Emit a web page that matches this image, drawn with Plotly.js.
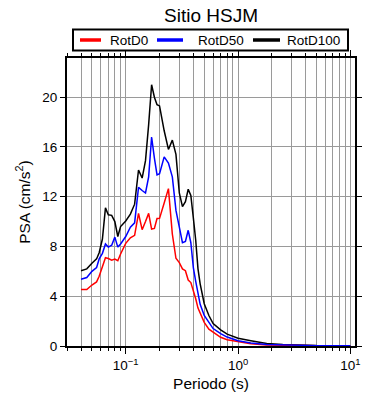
<!DOCTYPE html>
<html>
<head>
<meta charset="utf-8">
<script src="https://cdn.plot.ly/plotly-3.0.1.min.js"></script>
<style>html,body{margin:0;padding:0;background:#fff;}#chart{width:390px;height:400px;}</style>
</head>
<body>
<div id="chart"></div>
<script>
const periods = [0.04, 0.045, 0.05, 0.055, 0.058, 0.062, 0.066, 0.07, 0.075, 0.08, 0.085, 0.09, 0.1, 0.11, 0.12, 0.13, 0.14, 0.15, 0.16, 0.17, 0.18, 0.19, 0.2, 0.22, 0.24, 0.26, 0.28, 0.3, 0.32, 0.34, 0.36, 0.38, 0.4, 0.42, 0.44, 0.46, 0.5, 0.55, 0.6, 0.7, 0.8, 1.0, 1.3, 1.8, 2.5, 3.5, 5, 7.5, 10];

const rotD100 = [6.05, 6.2, 6.65, 7.0, 7.5, 8.6, 11.1, 10.55, 10.5, 10.0, 8.8, 9.6, 10.05, 10.6, 11.4, 14.15, 13.5, 14.9, 17.8, 21.0, 20.0, 19.4, 19.3, 17.3, 15.8, 16.55, 15.4, 12.3, 11.2, 11.6, 12.6, 12.1, 10.3, 8.5, 6.2, 5.0, 3.4, 2.45, 1.8, 1.3, 0.95, 0.62, 0.42, 0.2, 0.12, 0.07, 0.04, 0.03, 0.02];

const rotD50 = [5.37, 5.5, 6.0, 6.3, 7.0, 7.45, 8.2, 7.95, 8.1, 8.75, 7.95, 8.2, 8.8, 9.55, 9.9, 12.75, 12.5, 12.3, 13.6, 16.8, 15.1, 13.75, 13.85, 15.2, 14.7, 13.6, 10.9, 9.6, 8.3, 8.4, 9.3, 8.3, 6.3, 5.2, 4.2, 3.35, 2.45, 1.9, 1.4, 1.0, 0.72, 0.42, 0.24, 0.13, 0.08, 0.05, 0.03, 0.02, 0.015];

const rotD0 = [4.54, 4.54, 4.9, 5.15, 5.6, 6.45, 7.1, 7.03, 6.9, 6.98, 6.85, 7.4, 8.25, 8.7, 8.9, 10.66, 9.35, 10.0, 10.66, 9.4, 9.45, 10.25, 10.26, 11.5, 12.65, 9.0, 7.05, 6.7, 6.2, 6.05, 5.3, 5.1, 4.5, 3.8, 3.05, 2.6, 1.9, 1.35, 1.1, 0.7, 0.5, 0.35, 0.19, 0.08, 0.05, 0.03, 0.02, 0.015, 0.01];

const seriesNames = ["RotD0", "RotD50", "RotD100"];
const seriesColors = ["#ff0000", "#0000ff", "#000000"];

const xMajorVals = [0.1, 1, 10];
const xMajorText = ["10<sup>\u22121</sup>", "10<sup>0</sup>", "10<sup>1</sup>"];
const xMinorVals = [0.03,0.04,0.05,0.06,0.07,0.08,0.09,0.2,0.3,0.4,0.5,0.6,0.7,0.8,0.9,2,3,4,5,6,7,8,9];
const yTickVals = [0, 4, 8, 12, 16, 20];

const FONT = "Liberation Sans, Arial, Helvetica, sans-serif";
const GRID = "#9a9a9a";

// plot area geometry (pixels) used to place the legend box above the plot
const PL = 67, PW = 288, PB = 346, PH = 288;
const px = v => (v - PL) / PW;
const py = v => (PB - v) / PH;

function mk(name, y, color) {
  return {x: periods, y: y, type: "scatter", mode: "lines", name: name,
    line: {color: color, width: 1.5}, showlegend: false};
}
const data = [
  mk(seriesNames[2], rotD100, seriesColors[2]),
  mk(seriesNames[0], rotD0, seriesColors[0]),
  mk(seriesNames[1], rotD50, seriesColors[1])
];

// legend (drawn as a box, line samples and text labels)
const legLineX = [[80, 101], [157, 183], [253, 280]];
const legTextX = [108, 196, 285];
const legY = 40;
const shapes = [{type: "rect", xref: "paper", yref: "paper", x0: px(73), x1: px(348), y0: py(50.5), y1: py(29.5),
  line: {color: "#000", width: 2}, fillcolor: "#fff", layer: "above"}];
const annotations = [];
seriesNames.forEach((n, i) => {
  shapes.push({type: "line", xref: "paper", yref: "paper", x0: px(legLineX[i][0]), x1: px(legLineX[i][1]),
    y0: py(legY), y1: py(legY), line: {color: seriesColors[i], width: 3.5}, layer: "above"});
  annotations.push({xref: "paper", yref: "paper", x: px(legTextX[i]), y: py(legY), xanchor: "left", yanchor: "middle",
    text: n, showarrow: false, font: {size: 13.5, family: FONT, color: "#000"}});
});

const layout = {
  width: 390, height: 400,
  margin: {l: 67, r: 35, t: 58, b: 54},
  paper_bgcolor: "#fff", plot_bgcolor: "#fff",
  font: {family: FONT, size: 13, color: "#000"},
  title: {text: "Sitio HSJM", font: {size: 19, family: FONT}, x: 0.5, xref: "paper", y: 1 - 15/400, yref: "container", yanchor: "middle"},
  showlegend: false,
  shapes: shapes,
  annotations: annotations,
  xaxis: {
    type: "log", range: [Math.log10(0.03), Math.log10(11)],
    tickmode: "array", tickvals: xMajorVals, ticktext: xMajorText,
    ticks: "outside", ticklen: 6, tickwidth: 1, tickcolor: "#000",
    showgrid: true, gridcolor: GRID, gridwidth: 1,
    minor: {tickmode: "array", tickvals: xMinorVals, ticks: "outside", ticklen: 3, tickcolor: "#000", showgrid: true, gridcolor: GRID, gridwidth: 1},
    showline: true, linecolor: "#000", linewidth: 2, mirror: "ticks",
    zeroline: false,
    tickfont: {size: 13.5, family: FONT},
    title: {text: "Periodo (s)", font: {size: 15.5, family: FONT}, standoff: 6}
  },
  yaxis: {
    range: [0, 23.15], tickmode: "array", tickvals: yTickVals,
    ticks: "outside", ticklen: 5, tickwidth: 1, tickcolor: "#000",
    showgrid: true, gridcolor: GRID, gridwidth: 1,
    showline: true, linecolor: "#000", linewidth: 2, mirror: "ticks",
    zeroline: false,
    tickfont: {size: 13.5, family: FONT},
    title: {text: "PSA (cm/s<sup>2</sup>)", font: {size: 15.5, family: FONT}, standoff: 8}
  }
};

Plotly.newPlot("chart", data, layout, {displayModeBar: false, staticPlot: true});
</script>
</body>
</html>
